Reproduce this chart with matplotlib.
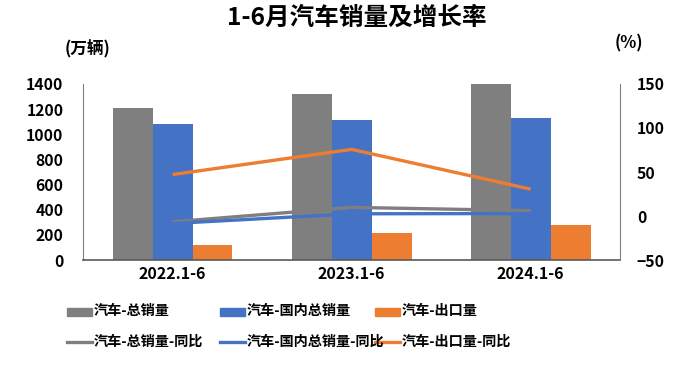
import numpy as np
import matplotlib
matplotlib.use("Agg")
import matplotlib.pyplot as plt
from matplotlib.patches import Rectangle
from matplotlib.lines import Line2D

plt.rcParams['font.family'] = ['Noto Sans CJK SC', 'DejaVu Sans']

periods = ["2022.1-6", "2023.1-6", "2024.1-6"]
total_sales = [1206, 1324, 1405]
domestic_sales = [1083, 1110, 1126]
export_sales = [122, 214, 279]
total_yoy = [-6.6, 9.8, 6.1]
domestic_yoy = [-8.5, 2.5, 2.8]
export_yoy = [47.1, 75.7, 30.5]

bar_labels = ["汽车-总销量", "汽车-国内总销量", "汽车-出口量"]
line_labels = ["汽车-总销量-同比", "汽车-国内总销量-同比", "汽车-出口量-同比"]
colors = ["#7F7F7F", "#4472C4", "#ED7D31"]

fig = plt.figure(figsize=(7, 3.66), dpi=100)
ax = fig.add_axes([0.1186, 0.2896, 0.7674, 0.4809])
ax2 = ax.twinx()

x = np.arange(len(periods))
w = 0.223
for i, vals in enumerate([total_sales, domestic_sales, export_sales]):
	ax.bar(x + (i - 1) * w, vals, width=w, color=colors[i], zorder=2)

for i, vals in enumerate([total_yoy, domestic_yoy, export_yoy]):
	ax2.plot(x, vals, color=colors[i], linewidth=2.4, solid_capstyle="butt", zorder=3)

ax.set_xlim(-0.5, 2.5)
ax.set_ylim(0, 1400)
ax.set_yticks(range(0, 1401, 200))
ax2.set_ylim(-50, 150)
ax2.set_yticks(range(-50, 151, 50))
ax.set_xticks(x)
ax.set_xticklabels(periods, fontsize=11.5, fontweight="bold")

for a in (ax, ax2):
	for s in a.spines.values():
		s.set_visible(False)
ax.spines["left"].set_visible(True)
ax.spines["left"].set_color("#808080")
ax.spines["bottom"].set_visible(True)
ax.spines["bottom"].set_color("#595959")
ax.spines["bottom"].set_linewidth(1.2)
ax2.spines["right"].set_visible(True)
ax2.spines["right"].set_color("#808080")

ax.tick_params(axis="y", length=0, pad=14, labelsize=11.3)
ax.tick_params(axis="x", length=0, pad=4)
ax2.tick_params(axis="y", length=0, pad=12, labelsize=11.3)
for lbl in ax.get_yticklabels() + ax2.get_yticklabels():
	lbl.set_fontweight("bold")

ax2.set_zorder(ax.get_zorder() + 1)
ax.patch.set_visible(False)

fig.text(0.51, 0.951, "1-6月汽车销量及增长率", ha="center", va="center",
		 fontsize=17.7, fontweight="bold")
fig.text(0.125, 0.865, "(万辆)", ha="center", va="center", fontsize=12, fontweight="bold")
fig.text(0.899, 0.88, "(%)", ha="center", va="center", fontsize=12, fontweight="bold")

# legend, drawn by hand to get the uneven column spacing
col_x = [67, 220, 375]
row_y = [311.5, 341.5]
H, W = 366, 700
for i in range(3):
	x0 = col_x[i] / W
	fig.add_artist(Rectangle((x0, 1 - (row_y[0] + 4) / H), 25 / W, 8 / H,
							 transform=fig.transFigure, color=colors[i]))
	fig.text(x0 + 27 / W, 1 - row_y[0] / H, bar_labels[i], ha="left", va="center",
			 fontsize=10.2, fontweight="bold")
	fig.add_artist(Line2D([x0, x0 + 25 / W], [1 - row_y[1] / H] * 2,
						  transform=fig.transFigure, color=colors[i], linewidth=2.4))
	fig.text(x0 + 27 / W, 1 - row_y[1] / H, line_labels[i], ha="left", va="center",
			 fontsize=10.2, fontweight="bold")

fig.savefig("out.png", dpi=100)
